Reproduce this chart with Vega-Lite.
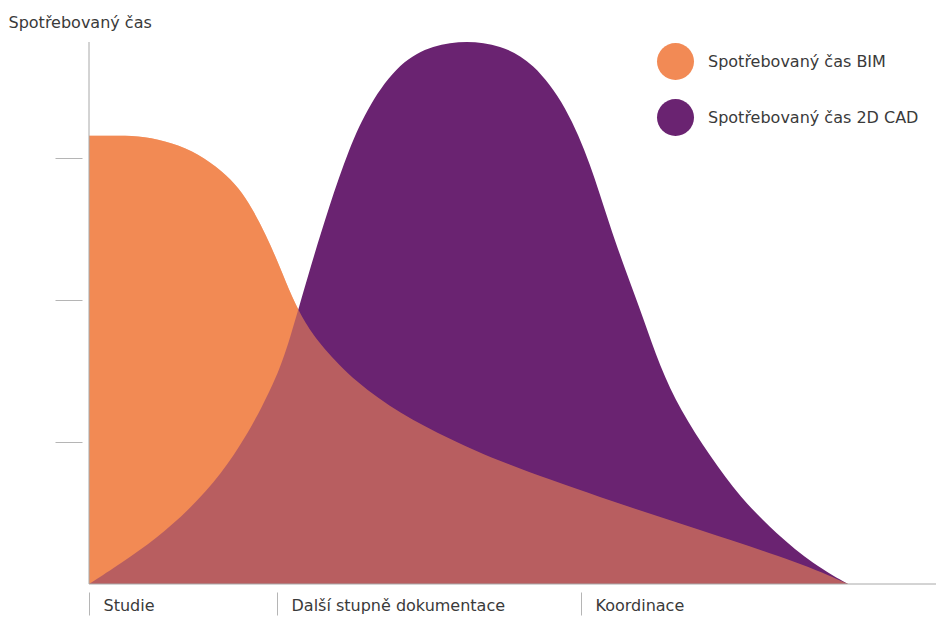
{
  "$schema": "https://vega.github.io/schema/vega-lite/v6.json",
  "width": 847,
  "height": 542,
  "autosize": "none",
  "padding": {"left": 89, "top": 42, "right": 0, "bottom": 34},
  "background": "white",
  "config": {
    "view": {"stroke": null},
    "font": "DejaVu Sans"
  },
  "datasets": {
    "krivky": [
      {"x": 0, "hodnota": 3.16, "rada": "Spotřebovaný čas BIM"},
      {"x": 30, "hodnota": 3.16, "rada": "Spotřebovaný čas BIM"},
      {"x": 55, "hodnota": 3.155, "rada": "Spotřebovaný čas BIM"},
      {"x": 83, "hodnota": 3.11, "rada": "Spotřebovaný čas BIM"},
      {"x": 110, "hodnota": 3.03, "rada": "Spotřebovaný čas BIM"},
      {"x": 133, "hodnota": 2.91, "rada": "Spotřebovaný čas BIM"},
      {"x": 150, "hodnota": 2.79, "rada": "Spotřebovaný čas BIM"},
      {"x": 163, "hodnota": 2.65, "rada": "Spotřebovaný čas BIM"},
      {"x": 177, "hodnota": 2.46, "rada": "Spotřebovaný čas BIM"},
      {"x": 190, "hodnota": 2.25, "rada": "Spotřebovaný čas BIM"},
      {"x": 203, "hodnota": 2.02, "rada": "Spotřebovaný čas BIM"},
      {"x": 216, "hodnota": 1.84, "rada": "Spotřebovaný čas BIM"},
      {"x": 233, "hodnota": 1.67, "rada": "Spotřebovaný čas BIM"},
      {"x": 267, "hodnota": 1.42, "rada": "Spotřebovaný čas BIM"},
      {"x": 311, "hodnota": 1.20, "rada": "Spotřebovaný čas BIM"},
      {"x": 361, "hodnota": 1.02, "rada": "Spotřebovaný čas BIM"},
      {"x": 411, "hodnota": 0.86, "rada": "Spotřebovaný čas BIM"},
      {"x": 511, "hodnota": 0.61, "rada": "Spotřebovaný čas BIM"},
      {"x": 611, "hodnota": 0.38, "rada": "Spotřebovaný čas BIM"},
      {"x": 711, "hodnota": 0.15, "rada": "Spotřebovaný čas BIM"},
      {"x": 759, "hodnota": 0, "rada": "Spotřebovaný čas BIM"},
      {"x": 0, "hodnota": 0, "rada": "Spotřebovaný čas 2D CAD"},
      {"x": 33, "hodnota": 0.15, "rada": "Spotřebovaný čas 2D CAD"},
      {"x": 67, "hodnota": 0.32, "rada": "Spotřebovaný čas 2D CAD"},
      {"x": 100, "hodnota": 0.52, "rada": "Spotřebovaný čas 2D CAD"},
      {"x": 133, "hodnota": 0.78, "rada": "Spotřebovaný čas 2D CAD"},
      {"x": 157, "hodnota": 1.04, "rada": "Spotřebovaný čas 2D CAD"},
      {"x": 173, "hodnota": 1.25, "rada": "Spotřebovaný čas 2D CAD"},
      {"x": 187, "hodnota": 1.45, "rada": "Spotřebovaný čas 2D CAD"},
      {"x": 200, "hodnota": 1.70, "rada": "Spotřebovaný čas 2D CAD"},
      {"x": 220, "hodnota": 2.20, "rada": "Spotřebovaný čas 2D CAD"},
      {"x": 240, "hodnota": 2.66, "rada": "Spotřebovaný čas 2D CAD"},
      {"x": 260, "hodnota": 3.07, "rada": "Spotřebovaný čas 2D CAD"},
      {"x": 280, "hodnota": 3.38, "rada": "Spotřebovaný čas 2D CAD"},
      {"x": 311, "hodnota": 3.68, "rada": "Spotřebovaný čas 2D CAD"},
      {"x": 344, "hodnota": 3.80, "rada": "Spotřebovaný čas 2D CAD"},
      {"x": 378, "hodnota": 3.83, "rada": "Spotřebovaný čas 2D CAD"},
      {"x": 411, "hodnota": 3.80, "rada": "Spotřebovaný čas 2D CAD"},
      {"x": 444, "hodnota": 3.68, "rada": "Spotřebovaný čas 2D CAD"},
      {"x": 478, "hodnota": 3.36, "rada": "Spotřebovaný čas 2D CAD"},
      {"x": 501, "hodnota": 2.97, "rada": "Spotřebovaný čas 2D CAD"},
      {"x": 521, "hodnota": 2.52, "rada": "Spotřebovaný čas 2D CAD"},
      {"x": 536, "hodnota": 2.22, "rada": "Spotřebovaný čas 2D CAD"},
      {"x": 554, "hodnota": 1.88, "rada": "Spotřebovaný čas 2D CAD"},
      {"x": 571, "hodnota": 1.53, "rada": "Spotřebovaný čas 2D CAD"},
      {"x": 591, "hodnota": 1.23, "rada": "Spotřebovaný čas 2D CAD"},
      {"x": 621, "hodnota": 0.90, "rada": "Spotřebovaný čas 2D CAD"},
      {"x": 651, "hodnota": 0.61, "rada": "Spotřebovaný čas 2D CAD"},
      {"x": 688, "hodnota": 0.35, "rada": "Spotřebovaný čas 2D CAD"},
      {"x": 724, "hodnota": 0.14, "rada": "Spotřebovaný čas 2D CAD"},
      {"x": 759, "hodnota": 0, "rada": "Spotřebovaný čas 2D CAD"}
    ],
    "jeden": [{}]
  },
  "layer": [
    {
      "data": {"name": "krivky"},
      "transform": [{"filter": "datum.rada == 'Spotřebovaný čas BIM'"}],
      "mark": {"type": "area", "interpolate": "basis", "opacity": 1},
      "encoding": {
        "x": {
          "field": "x", "type": "quantitative",
          "scale": {"domain": [0, 847], "nice": false, "zero": false},
          "axis": {
            "values": [0, 188, 492],
            "labelExpr": "datum.value == 0 ? 'Studie' : datum.value == 188 ? 'Další stupně dokumentace' : 'Koordinace'",
            "domain": false,
            "grid": false,
            "offset": 8,
            "tickSize": 23,
            "tickColor": "#b5b5b5",
            "tickWidth": 1,
            "labelAlign": "left",
            "labelBaseline": "alphabetic",
            "labelOffset": 14,
            "labelPadding": -5,
            "labelFontSize": 16,
            "labelColor": "#3a3a3a",
            "labelFlush": false,
            "labelOverlap": false,
            "labelLimit": 500,
            "title": null
          }
        },
        "y": {
          "field": "hodnota", "type": "quantitative",
          "stack": null,
          "scale": {"domain": [0, 3.82], "nice": false},
          "axis": {
            "values": [1, 2, 3],
            "labels": false,
            "domain": false,
            "grid": false,
            "offset": 7,
            "tickSize": 27,
            "tickColor": "#b5b5b5",
            "title": "Spotřebovaný čas",
            "titleAngle": 0,
            "titleAlign": "left",
            "titleBaseline": "middle",
            "titleX": -74,
            "titleY": -20,
            "titleFontSize": 16,
            "titleFontWeight": "normal",
            "titleColor": "#3a3a3a"
          }
        },
        "color": {
          "field": "rada", "type": "nominal",
          "scale": {
            "domain": ["Spotřebovaný čas BIM", "Spotřebovaný čas 2D CAD"],
            "range": ["#F28A55", "#6A2371"]
          },
          "legend": {
            "title": null,
            "orient": "none",
            "legendX": 568,
            "legendY": 1,
            "symbolType": "circle",
            "symbolSize": 1369,
            "symbolStrokeWidth": 0,
            "symbolOpacity": 1,
            "labelFontSize": 16,
            "labelColor": "#3a3a3a",
            "labelOffset": 14,
            "rowPadding": 19,
            "labelLimit": 400
          }
        }
      }
    },
    {
      "data": {"name": "krivky"},
      "transform": [{"filter": "datum.rada == 'Spotřebovaný čas 2D CAD'"}],
      "mark": {"type": "area", "interpolate": "basis", "opacity": 1},
      "encoding": {
        "x": {"field": "x", "type": "quantitative"},
        "y": {"field": "hodnota", "type": "quantitative", "stack": null},
        "color": {"field": "rada", "type": "nominal"}
      }
    },
    {
      "data": {"name": "krivky"},
      "transform": [{"filter": "datum.rada == 'Spotřebovaný čas BIM'"}],
      "mark": {"type": "area", "interpolate": "basis", "color": "#F28A55", "opacity": 0.58},
      "encoding": {
        "x": {"field": "x", "type": "quantitative"},
        "y": {"field": "hodnota", "type": "quantitative", "stack": null}
      }
    },
    {
      "data": {"name": "jeden"},
      "mark": {"type": "rule", "color": "#a8a8a8", "strokeWidth": 1},
      "encoding": {
        "x": {"datum": 0, "type": "quantitative"},
        "y": {"datum": 0, "type": "quantitative"},
        "y2": {"datum": 3.82}
      }
    },
    {
      "data": {"name": "jeden"},
      "mark": {"type": "rule", "color": "#a8a8a8", "strokeWidth": 1},
      "encoding": {
        "x": {"datum": 0, "type": "quantitative"},
        "x2": {"datum": 847},
        "y": {"datum": 0, "type": "quantitative"}
      }
    }
  ]
}
